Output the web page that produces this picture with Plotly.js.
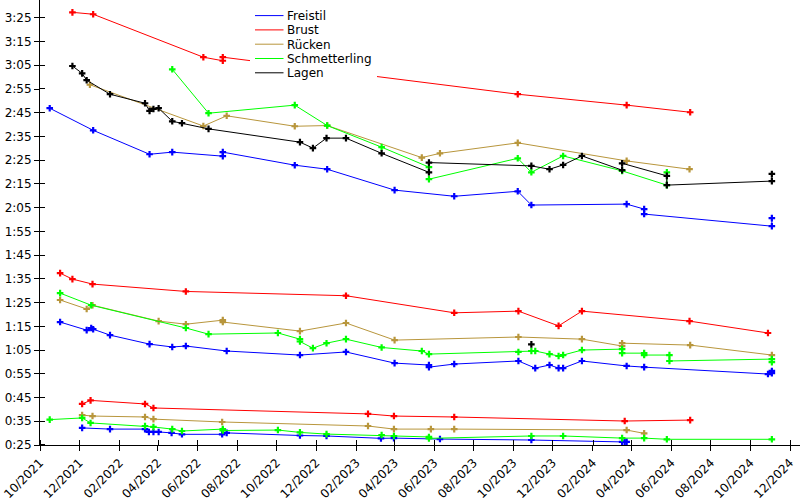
<!DOCTYPE html>
<html>
<head>
<meta charset="utf-8">
<script src="https://cdn.plot.ly/plotly-3.0.1.min.js"></script>
<style>html,body{margin:0;padding:0;background:#fff}#chart{width:800px;height:500px}</style>
</head>
<body>
<div id="chart"></div>
<script>
// ---- Legend entries / colours ----
const strokes = ['Freistil', 'Brust', 'Rücken', 'Schmetterling', 'Lagen'];
const strokeColors = ['#0000ff', '#ff0000', '#b8963c', '#00ff00', '#000000'];

// ---- Y tick labels (m:ss) ----
const yTickLabels = ['0:25','0:35','0:45','0:55','1:05','1:15','1:25','1:35','1:45','1:55',
                     '2:05','2:15','2:25','2:35','2:45','2:55','3:05','3:15','3:25'];

// ---- Freistil ----
const frei50Dates = ['2021-12-05','2022-01-17','2022-03-12','2022-03-18','2022-03-25','2022-04-02','2022-04-22','2022-05-08','2022-07-09','2022-07-16','2022-11-06','2022-12-17','2023-03-11','2023-03-31','2023-06-10','2023-10-29','2024-03-17','2024-03-21','2024-03-24'];
const frei50Times = [32.2,31.7,31.7,30.5,30.5,30.5,30.1,29.5,29.5,30.1,29.0,28.8,27.8,27.9,27.5,27.1,26.3,26.3,26.3];
const frei100Dates = ['2021-11-01','2021-12-12','2021-12-19','2021-12-22','2022-01-17','2022-03-19','2022-04-23','2022-05-14','2022-07-16','2022-11-06','2023-01-16','2023-04-01','2023-05-24','2023-05-24','2023-07-02','2023-10-09','2023-11-04','2023-11-26','2023-12-10','2023-12-17','2024-01-15','2024-03-24','2024-04-20','2024-10-28','2024-11-03','2024-11-03'];
const frei100Times = [76.8,73.4,74.3,73.8,71.3,67.5,66.3,66.7,64.6,62.9,64.2,59.5,58.7,57.8,59.1,60.4,57.4,58.7,57.4,57.4,60.4,58.3,57.8,54.9,56.2,55.3];
const frei200Dates = ['2021-10-16','2021-12-22','2022-03-19','2022-04-23','2022-07-10','2022-07-10','2022-10-29','2022-12-18','2023-04-01','2023-07-02','2023-10-08','2023-10-29','2024-03-24','2024-04-20','2024-04-20','2024-11-03','2024-11-03'];
const frei200Times = [166.9,157.6,147.5,148.4,146.7,148.4,142.9,141.2,132.4,129.8,131.9,126.1,126.5,124.4,122.3,117.2,120.6];

// ---- Brust ----
const brust50Dates = ['2021-12-05','2021-12-18','2022-03-12','2022-03-25','2023-02-19','2023-03-31','2023-07-02','2024-03-21','2024-06-30'];
const brust50Times = [42.3,43.8,42.3,40.6,38.1,37.2,36.8,35.1,35.5];
const brust100Dates = ['2021-11-01','2021-11-20','2021-12-21','2022-05-14','2023-01-16','2023-07-02','2023-10-09','2023-12-10','2024-01-15','2024-06-29','2024-10-28'];
const brust100Times = [97.4,94.9,92.8,89.7,87.9,80.7,81.4,75.2,81.4,77.2,72.2];
const brust200Dates = ['2021-11-20','2021-12-22','2022-06-10','2022-07-10','2022-07-10','2023-10-08','2024-03-24','2024-06-30'];
const brust200Times = [207.3,206.5,188.4,186.9,188.4,172.8,168.2,165.2];

// ---- Rücken ----
const rueck50Dates = ['2021-12-05','2021-12-21','2022-03-12','2022-03-25','2022-07-09','2023-02-19','2023-03-31','2023-05-27','2023-07-02','2024-03-24','2024-04-20'];
const rueck50Times = [37.6,37.2,36.8,35.9,34.7,33.0,31.7,31.7,31.7,31.3,29.9];
const rueck100Dates = ['2021-11-01','2021-12-12','2021-12-21','2022-04-02','2022-05-14','2022-07-10','2022-07-10','2022-11-06','2023-01-16','2023-04-01','2023-10-09','2024-01-15','2024-03-17','2024-03-17','2024-06-30','2024-11-03'];
const rueck100Times = [86.1,82.3,83.9,77.2,75.9,77.6,76.8,73.0,76.4,69.2,70.5,69.6,66.7,67.9,67.1,62.9];
const rueck200Dates = ['2021-12-17','2022-06-10','2022-07-16','2022-10-29','2022-12-18','2023-05-13','2023-06-10','2023-10-08','2024-03-24','2024-06-29'];
const rueck200Times = [176.8,159.4,163.7,159.3,159.6,146.1,147.9,152.3,144.7,141.2];

// ---- Schmetterling ----
const schm50Dates = ['2021-10-16','2021-12-05','2021-12-18','2022-03-12','2022-03-25','2022-04-23','2022-05-08','2022-07-10','2022-07-10','2022-10-03','2022-11-06','2022-12-17','2023-03-12','2023-03-31','2023-05-24','2023-05-24','2023-10-29','2023-12-17','2024-03-17','2024-04-20','2024-05-25','2024-11-03'];
const schm50Times = [35.7,36.4,34.3,33.0,32.6,31.7,30.9,31.7,31.1,31.3,30.3,29.6,29.2,28.8,28.4,27.8,28.8,28.8,27.9,27.9,27.4,27.4];
const schm100Dates = ['2021-11-01','2021-12-19','2022-05-14','2022-06-18','2022-10-03','2022-11-06','2022-11-06','2022-11-26','2022-12-17','2023-01-16','2023-03-12','2023-05-13','2023-05-24','2023-10-09','2023-10-29','2023-11-04','2023-11-26','2023-12-10','2023-12-17','2024-01-15','2024-03-17','2024-03-17','2024-04-20','2024-04-20','2024-05-29','2024-05-29','2024-11-03','2024-11-03'];
const schm100Times = [89.0,83.9,74.3,71.7,72.2,69.6,68.6,65.8,67.9,69.6,66.1,64.6,63.3,64.2,64.6,64.6,63.3,62.5,62.9,65.0,65.4,63.7,63.7,62.9,62.9,60.4,61.2,59.9];
const schm200Dates = ['2022-04-23','2022-06-18','2022-10-29','2022-12-18','2023-03-12','2023-05-24','2023-05-24','2023-10-08','2023-10-29','2023-12-17','2024-03-17','2024-05-25','2024-05-25'];
const schm200Times = [183.3,164.8,168.2,159.6,150.5,142.1,137.0,145.8,139.9,146.8,140.5,134.5,139.9];

// ---- Lagen ----
const lagen100Dates = ['2023-10-29'];
const lagen100Times = [67.4];
const lagen200Dates = ['2021-11-20','2021-12-05','2021-12-12','2022-01-17','2022-03-12','2022-03-19','2022-03-25','2022-04-02','2022-04-23','2022-05-08','2022-06-18','2022-11-06','2022-11-26','2022-12-17','2023-01-16','2023-03-12','2023-05-24','2023-05-24','2023-10-29','2023-11-26','2023-12-17','2024-01-15','2024-03-17','2024-03-17','2024-05-25','2024-05-25','2024-11-03','2024-11-03'];
const lagen200Times = [184.7,181.6,178.7,172.8,169.0,165.8,166.6,166.9,161.4,160.6,158.2,152.6,150.1,154.3,154.3,147.9,139.9,144.0,142.6,141.2,143.0,146.8,140.8,143.7,138.4,134.5,136.2,139.2];

// ---- Build traces ----
const seriesList = [
  [0, frei50Dates, frei50Times], [0, frei100Dates, frei100Times], [0, frei200Dates, frei200Times],
  [1, brust50Dates, brust50Times], [1, brust100Dates, brust100Times], [1, brust200Dates, brust200Times],
  [2, rueck50Dates, rueck50Times], [2, rueck100Dates, rueck100Times], [2, rueck200Dates, rueck200Times],
  [3, schm50Dates, schm50Times], [3, schm100Dates, schm100Times], [3, schm200Dates, schm200Times],
  [4, lagen100Dates, lagen100Times], [4, lagen200Dates, lagen200Times]
];
const traces = seriesList.map(([s, d, t]) => ({
  type: 'scatter', mode: 'lines+markers', x: d, y: t,
  name: strokes[s], showlegend: false, hoverinfo: 'x+y+name',
  line: {color: strokeColors[s], width: 1},
  marker: {symbol: 'cross', size: 5.5, color: strokeColors[s], line: {width: 0}}
}));

// ---- Ticks ----
const yTickVals = yTickLabels.map(l => { const [m, s] = l.split(':'); return (+m) * 60 + (+s); });
const xMinor = [];
for (let i = 0; i < 20; i++) {
  const d = new Date(Date.UTC(2021, 9 + 2 * i, 1, 2));
  xMinor.push(d.toISOString().slice(0, 19).replace('T', ' '));
}
const yMinor = yTickVals.map(v => v + 0.01);

// ---- Manual key (pixel -> paper helpers for the legend box only) ----
const PL = 40, PW = 760, PH = 445;
const px = v => (v - PL) / PW;
const py = v => 1 - v / PH;
const keyPitch = 14.3, keyMid = 44.2;
const keyY = strokes.map((_, i) => keyMid + (i - 2) * keyPitch);
const shapes = [{type: 'rect', xref: 'paper', yref: 'paper', layer: 'above',
  x0: px(250), x1: px(377), y0: py(80), y1: py(5), fillcolor: '#ffffff', line: {width: 0}}];
strokes.forEach((name, i) => {
  shapes.push({type: 'line', xref: 'paper', yref: 'paper', layer: 'above',
    x0: px(255), x1: px(283.5), y0: py(keyY[i]), y1: py(keyY[i]),
    line: {color: strokeColors[i], width: 1}});
});
// one multi-line text block: line pitch 11px*1.3 = 14.3px, glyphs drawn at 12px
const annotations = [{
  xref: 'paper', yref: 'paper', x: px(285.5), y: py(keyMid),
  xanchor: 'left', yanchor: 'middle', align: 'left', showarrow: false, borderpad: 0,
  text: strokes.map(n => '<span style="font-size:12px">' + n + '</span>').join('<br>'),
  font: {family: 'DejaVu Sans', size: 11, color: '#000'}
}];

const layout = {
  width: 800, height: 500,
  margin: {l: 40, r: 0, t: 0, b: 55, pad: 0},
  paper_bgcolor: '#ffffff', plot_bgcolor: '#ffffff',
  font: {family: 'DejaVu Sans', size: 12, color: '#000'},
  showlegend: false,
  xaxis: {
    type: 'date', range: ['2021-10-01', '2024-12-16 10:00'],
    tick0: '2021-10-01', dtick: 'M2', tickformat: '%m/%Y', tickangle: -45,
    ticks: 'outside', ticklen: 5, tickcolor: '#000', tickwidth: 1,
    minor: {tickmode: 'array', tickvals: xMinor, ticks: 'inside', ticklen: 5, tickcolor: '#000', tickwidth: 1, showgrid: false},
    showline: true, linecolor: '#000', linewidth: 1, mirror: false,
    showgrid: false, zeroline: false,
    tickfont: {family: 'DejaVu Sans', size: 12, color: '#000'}
  },
  yaxis: {
    range: [25, 212.5], tickmode: 'array', tickvals: yTickVals, ticktext: yTickLabels,
    ticks: 'outside', ticklen: 5, tickcolor: '#000', tickwidth: 1,
    minor: {tickmode: 'array', tickvals: yMinor, ticks: 'inside', ticklen: 5, tickcolor: '#000', tickwidth: 1, showgrid: false},
    showline: true, linecolor: '#000', linewidth: 1, mirror: false,
    showgrid: false, zeroline: false,
    tickfont: {family: 'DejaVu Sans', size: 12, color: '#000'}
  },
  shapes: shapes,
  annotations: annotations
};

Plotly.newPlot('chart', traces, layout, {displayModeBar: false, responsive: false});
</script>
</body>
</html>
